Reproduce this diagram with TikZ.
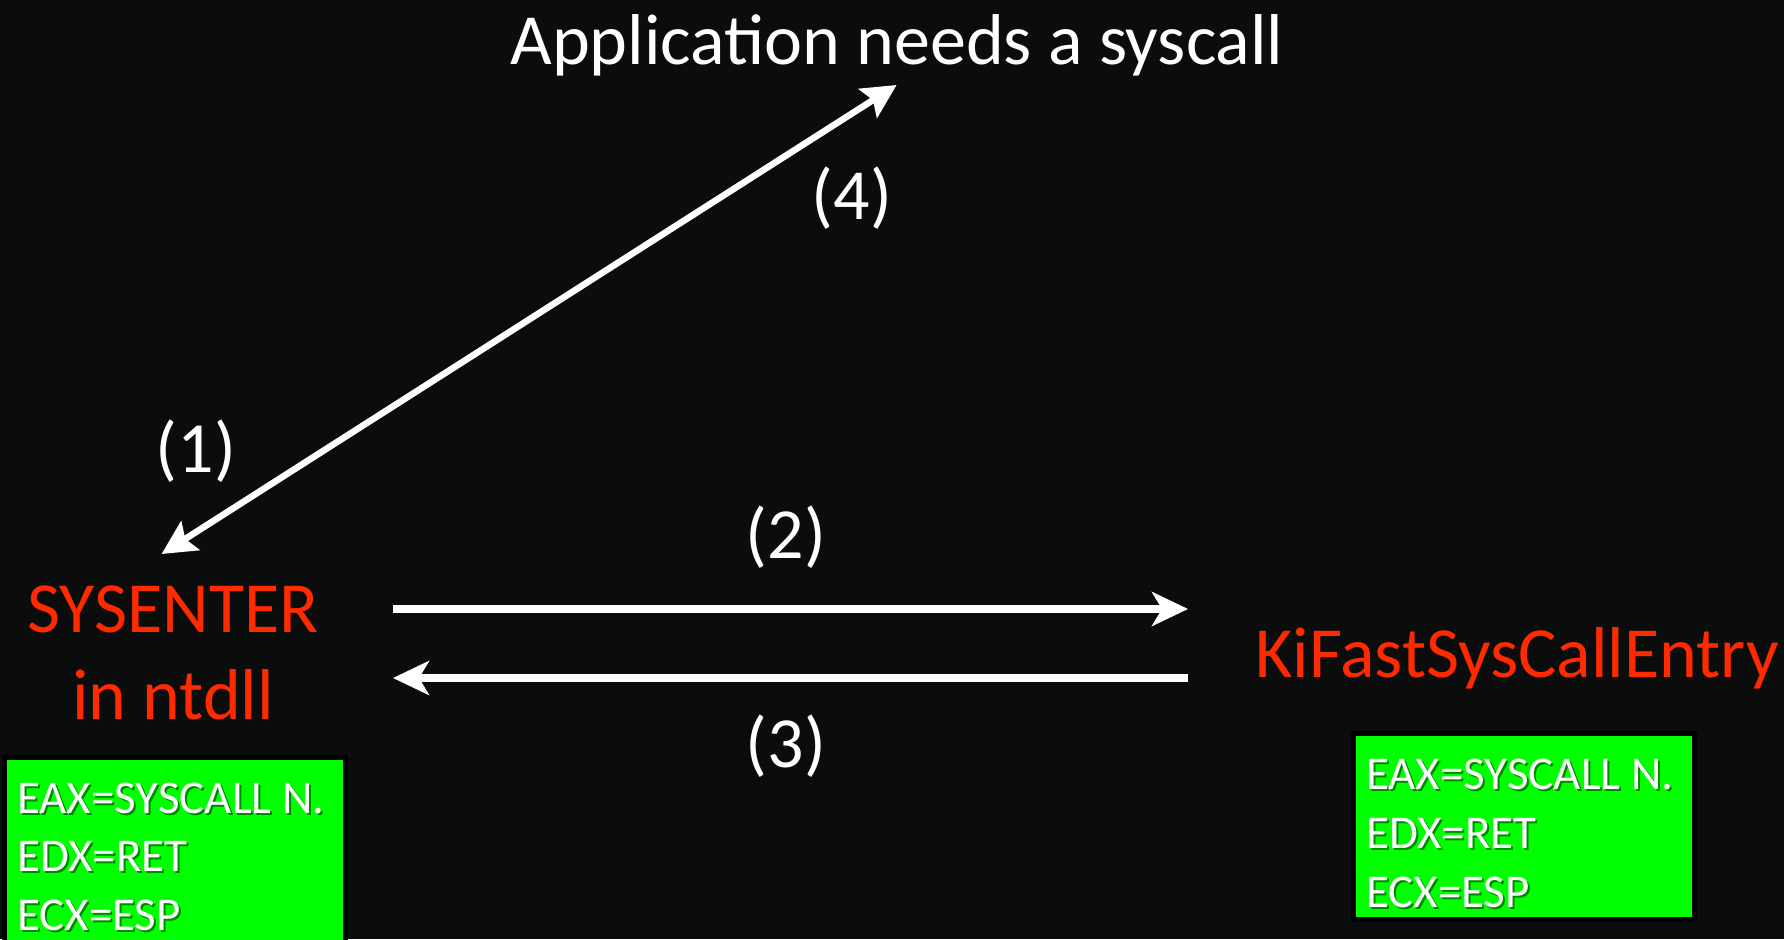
\documentclass[tikz,border=0pt]{standalone}
\usepackage{fontspec}
\setmainfont{Carlito}
\usetikzlibrary{arrows.meta}
\definecolor{bg}{HTML}{0B0D0C}
\definecolor{redtxt}{HTML}{FF2A00}
\definecolor{boxgreen}{HTML}{00FF00}
\begin{document}
\begin{tikzpicture}[x=1pt,y=-1pt,
  bigtxt/.style={font=\fontsize{72}{88}\selectfont, text=white, inner sep=0pt, anchor=base},
  redlbl/.style={bigtxt, text=redtxt},
  regtxt/.style={font=\fontsize{47}{58}\selectfont, text=white, inner sep=0pt, anchor=base west},
  regshadow/.style={regtxt, text=black, text opacity=0.45},
  regbox/.style={draw=black, line width=5pt, fill=boxgreen, inner sep=0pt, minimum width=341pt},
  harrow/.style={draw=white, line width=8pt, -{Stealth[length=36pt,width=34pt,inset=10pt]}},
  darrow/.style={draw=white, line width=6.5pt, {Stealth[length=34pt,width=34pt,inset=6pt]}-{Stealth[length=34pt,width=34pt,inset=6pt]}}
]
\useasboundingbox[fill=bg] (0,0) rectangle (1784,939);

% title and labels
\node[bigtxt] (app) at (897,65) {Application needs a syscall};
\node[redlbl] (sysenter) at (173,632) {SYSENTER};
\node[redlbl] (ntdll) at (173,719) {in ntdll};
\node[redlbl] (kifast) at (1517,677) {KiFastSysCallEntry};

\node[bigtxt] (n1) at (196,472) {(1)};
\node[bigtxt] (n2) at (786,558) {(2)};
\node[bigtxt] (n3) at (786,767) {(3)};
\node[bigtxt] (n4) at (852,219) {(4)};

% register boxes
\node[regbox, minimum height=187.5pt] (lbox) at (175,851.25) {};
\node[regbox, minimum height=186pt] (rbox) at (1524,826.5) {};

\node[regshadow] (l1s) at (19,815) {EAX=SYSCALL N.};
\node[regshadow] (l2s) at (19,873) {EDX=RET};
\node[regshadow] (l3s) at (19,932) {ECX=ESP};
\node[regtxt] (l1) at (17,813) {EAX=SYSCALL N.};
\node[regtxt] (l2) at (17,871) {EDX=RET};
\node[regtxt] (l3) at (17,930) {ECX=ESP};

\node[regshadow] (r1s) at (1368,791) {EAX=SYSCALL N.};
\node[regshadow] (r2s) at (1368,850) {EDX=RET};
\node[regshadow] (r3s) at (1368,909) {ECX=ESP};
\node[regtxt] (r1) at (1366,789) {EAX=SYSCALL N.};
\node[regtxt] (r2) at (1366,848) {EDX=RET};
\node[regtxt] (r3) at (1366,907) {ECX=ESP};

% arrow end points
\coordinate (dtop) at (896.6,85);
\coordinate (dbot) at (161.6,554);
\coordinate (h2s) at (393,609);
\coordinate (h2e) at (1188,609);
\coordinate (h3s) at (1188,678);
\coordinate (h3e) at (393,678);

\draw[darrow] (dbot) -- (dtop);
\draw[harrow] (h2s) -- (h2e);
\draw[harrow] (h3s) -- (h3e);
\end{tikzpicture}
\end{document}
